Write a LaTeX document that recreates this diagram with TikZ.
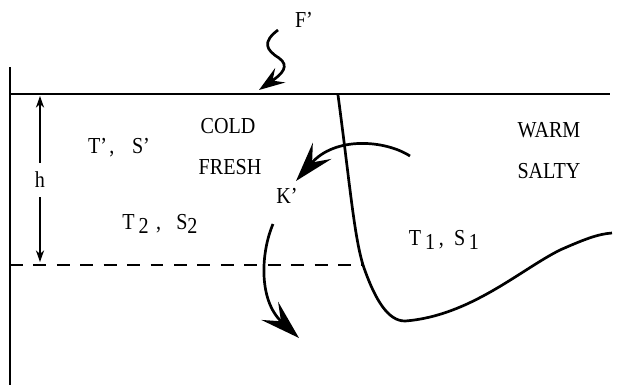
\documentclass[tikz,border=0pt]{standalone}
\usepackage{fontspec}
\setmainfont{Liberation Serif}
\newfontfamily\lblfont[FakeStretch=0.88]{Liberation Serif}
\usetikzlibrary{arrows.meta}
\newcommand{\lowidx}[2]{#1\raisebox{-0.4ex}{#2}}

\begin{document}
\begin{tikzpicture}[x=0.03cm, y=-0.03cm, line width=2.3pt,
  lbl/.style={font=\lblfont\fontsize{19.5}{22}\selectfont, inner sep=0pt},
  flow/.style={-{Stealth[length=34pt, width=21pt, inset=13pt]}},
  drip/.style={-{Stealth[length=22pt, width=15pt, inset=8pt]}},
  hdim/.style={line width=1.3pt, -{Stealth[length=10pt, width=7pt]}}]
\useasboundingbox (0,0) rectangle (625,385);

% wall, surface and base of mixed layer
\coordinate (wtop) at (10,67);
\coordinate (wbot) at (10,385);
\coordinate (sl) at (10,94);
\coordinate (sr) at (610,94);
\coordinate (dl) at (10,265);
\coordinate (dr) at (363,265);
\draw (wtop) -- (wbot);
\draw (sl) -- (sr);
\draw[dash pattern=on 11pt off 9pt] (dl) -- (dr);

% front
\coordinate (ftop) at (338,95);
\coordinate (fbot) at (405,321);
\coordinate (fend) at (612,233);
\draw (ftop) .. controls (350,185) and (354,235) .. (dr)
  .. controls (375,300) and (388,321) .. (fbot)
  .. controls (470,316) and (520,270) .. (560,250)
  .. controls (585,239) and (598,234) .. (fend);

% labels
\node[lbl] (F)  at (304,20)  {F’};
\node[lbl] (TS) at (119,148) {T’\hspace{2pt},\hspace{15pt}S’};
\node[lbl] (cold)  at (228,126) {COLD};
\node[lbl] (fresh) at (230,167) {FRESH};
\node[lbl] (warm)  at (549,130) {WARM};
\node[lbl] (salty) at (549,171) {SALTY};
\node[lbl] (K)  at (287,196) {K’};
\node[lbl] (T2) at (160,224) {\lowidx{T}{\,2}\,\,,\ \ \ \lowidx{S}{2}};
\node[lbl] (T1) at (444,240) {\lowidx{T}{\,1}\,,\ \ \lowidx{S}{\,1}};
\node[lbl] (h)  at (40,180)  {h};

% depth h
\coordinate (hup) at (40,96);
\coordinate (hdn) at (40,262);
\draw[hdim] (h.north) ++(0,-8) -- (hup);
\draw[hdim] (h.south) ++(0,8) -- (hdn);

% fluxes
\coordinate (f0) at (278,30);
\coordinate (f1) at (259,90);
\draw[drip] (f0) .. controls (262,42) and (266,50) .. (279,58)
  .. controls (290,66) and (282,74) .. (f1);
\coordinate (k0) at (410,156);
\coordinate (k1) at (296,181);
\draw[flow] (k0) .. controls (385,140) and (335,136) .. (k1);
\coordinate (m0) at (273,224);
\coordinate (m1) at (299,338);
\draw[flow] (m0) .. controls (261,252) and (258,300) .. (m1);
\end{tikzpicture}
\end{document}
